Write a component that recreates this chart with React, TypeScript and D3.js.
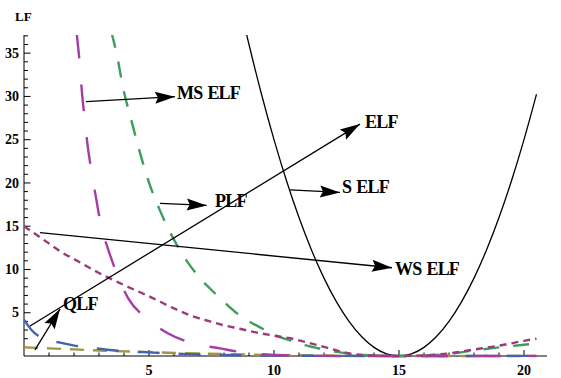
import * as d3 from "d3";
import React, { useEffect } from "react";

// x positions and values, one pair of arrays per curve
const selfX = [8.9, 9, 9.5, 10, 10.5, 11, 11.5, 12, 12.5, 13, 13.5, 14, 14.5, 15, 15.5, 16, 16.5, 17, 17.5, 18, 18.5, 19, 19.5, 20, 20.5];
const selfY = [37.2, 36, 30.25, 25, 20.25, 16, 12.25, 9, 6.25, 4, 2.25, 1, 0.25, 0, 0.25, 1, 2.25, 4, 6.25, 9, 12.25, 16, 20.25, 25, 30.25];

const mselfX = [2.1, 2.24, 2.32, 2.43, 2.55, 2.71, 2.88, 3.08, 3.37, 3.71, 4.17, 4.91, 5.77, 6.77, 7.84, 8.84, 10, 11, 12, 13, 15, 17, 20.5];
const mselfY = [37.5, 33.4, 30.4, 27.3, 24.2, 21.2, 18.3, 15.1, 12.3, 9.55, 6.65, 4.35, 2.6, 1.45, 0.88, 0.38, 0.12, 0.04, 0.01, 0, 0, 0, 0.02];

const plfX = [3.5, 3.73, 3.97, 4.27, 4.61, 4.97, 5.44, 5.97, 6.63, 7.04, 7.44, 7.91, 8.44, 8.91, 9.51, 10.04, 10.71, 11.24, 11.91, 12.44, 13.1, 14, 15, 16, 16.5, 17, 18, 19, 20, 20.5];
const plfY = [37.4, 34.6, 30.9, 27.5, 23.8, 20.3, 16.8, 13.6, 10.5, 9.0, 7.8, 6.5, 5.12, 4.16, 3.2, 2.42, 1.73, 1.25, 0.8, 0.5, 0.25, 0.05, 0, 0.05, 0.12, 0.25, 0.65, 1.0, 1.3, 1.46];

const wselfX = [0, 1, 1.5, 2, 3, 4, 5, 6, 6.64, 7.44, 8, 8.64, 9, 10, 10.64, 11, 12, 13, 14, 15, 16, 17, 18, 19, 20, 20.5];
const wselfY = [15, 13.0, 12.0, 11.2, 9.6, 8.2, 6.9, 5.5, 4.7, 4.0, 3.55, 3.15, 2.9, 2.35, 2.05, 1.8, 1.05, 0.3, 0.05, 0, 0.08, 0.3, 0.75, 1.2, 1.75, 2.0];

const elfX = [0, 0.3, 0.64, 1, 1.44, 2.31, 3.11, 4.04, 4.8, 5.7, 6.5, 8, 10, 12, 15, 20.5];
const elfY = [4.2, 3.0, 2.2, 1.8, 1.54, 1.05, 0.81, 0.52, 0.45, 0.32, 0.22, 0.12, 0.06, 0.02, 0, 0.02];

const qlfX = [0, 1, 2, 3, 4, 5, 6, 7, 8, 10, 12, 14, 15, 20.5];
const qlfY = [1.0, 0.88, 0.76, 0.64, 0.54, 0.45, 0.35, 0.28, 0.22, 0.12, 0.05, 0.01, 0, 0];

const xMajor = [5, 10, 15, 20];
const yMajor = [5, 10, 15, 20, 25, 30, 35];
const minorX = d3.range(1, 21);
const minorY = d3.range(1, 38);

// annotation arrows: start, tip, label corner (data units)
const arrows = [
  { lead: "MS", tail: "ELF", from: [2.48, 29.4], to: [6.04, 29.97], at: [6.12, 29.76] },
  { lead: "", tail: "ELF", from: [0.24, 3.47], to: [13.44, 26.8], at: [13.64, 26.35] },
  { lead: "S", tail: "ELF", from: [10.64, 19.2], to: [12.64, 18.9], at: [12.72, 18.8] },
  { lead: "", tail: "PLF", from: [5.44, 17.65], to: [7.31, 17.4], at: [7.64, 17.22] },
  { lead: "WS", tail: "ELF", from: [0.64, 14.25], to: [14.72, 10.2], at: [14.84, 9.36] },
  { lead: "", tail: "QLF", from: [0.44, 0.7], to: [1.44, 5.43], at: [1.56, 5.32] },
];

const W = 561;
const H = 378;

const App = () => {
  useEffect(() => {
    document.body.style.margin = "0";
  }, []);

  const x = d3.scaleLinear().domain([0, 20.92]).range([24, 547]);
  const y = d3.scaleLinear().domain([0, 37.1]).range([356, 35]);

  const line = (xs: number[], ys: number[]) =>
    d3
      .line<number>()
      .x((d, i) => x(xs[i]))
      .y((d) => y(d))
      .curve(d3.curveMonotoneX)(ys) || "";

  const series = [
    { xs: qlfX, ys: qlfY, color: "#a39442", dash: "14,9", w: 2.4 },
    { xs: elfX, ys: elfY, color: "#4065ac", dash: "22,19", w: 2.4 },
    { xs: plfX, ys: plfY, color: "#3d9e5c", dash: "16,14", w: 2.4 },
    { xs: mselfX, ys: mselfY, color: "#a33da3", dash: "27,26", w: 2.4 },
    { xs: wselfX, ys: wselfY, color: "#9b3b7c", dash: "7,5", w: 2.4 },
  ];

  const font = "'Liberation Serif', 'Times New Roman', serif";

  return (
    <svg width={W} height={H} style={{ display: "block", background: "#fff" }}>
      <defs>
        <clipPath id="plot">
          <rect x={24} y={35} width={523} height={324} />
        </clipPath>
        <marker id="head" viewBox="-21 -7 23 14" markerWidth={23} markerHeight={14} refX={0} refY={0} orient="auto" markerUnits="userSpaceOnUse">
          <path d="M0,0 L-20,-6 L-17,0 L-20,6 Z" fill="#000" />
        </marker>
      </defs>

      {/* axes */}
      <g stroke="#000" strokeWidth={1}>
        <line x1={24} x2={547} y1={356} y2={356} />
        <line x1={24} x2={24} y1={35} y2={356} />
        {minorX.map((t) => (
          <line key={"mx" + t} x1={x(t)} x2={x(t)} y1={356} y2={xMajor.includes(t) ? 350 : 352.5} />
        ))}
        {minorY.filter((t) => y(t) >= 35).map((t) => (
          <line key={"my" + t} x1={24} x2={yMajor.includes(t) ? 30.5 : 28} y1={y(t)} y2={y(t)} />
        ))}
      </g>
      <g fontFamily={font} fontWeight="bold" fontSize={14} fill="#000">
        {xMajor.map((t) => (
          <text key={"xl" + t} x={x(t)} y={375} textAnchor="middle">{t}</text>
        ))}
        {yMajor.map((t) => (
          <text key={"yl" + t} x={19} y={y(t)} dy="0.34em" textAnchor="end">{t}</text>
        ))}
        <text x={15} y={21} fontSize={13}>LF</text>
      </g>

      {/* curves */}
      <g clipPath="url(#plot)" fill="none">
        <path d={line(selfX, selfY)} stroke="#000" strokeWidth={1.3} />
        {series.map((s, i) => (
          <path key={i} d={line(s.xs, s.ys)} stroke={s.color} strokeWidth={s.w} strokeDasharray={s.dash} />
        ))}
      </g>

      {/* annotation arrows */}
      <g>
        {arrows.map((a, i) => (
          <g key={i}>
            <line x1={x(a.from[0])} y1={y(a.from[1])} x2={x(a.to[0])} y2={y(a.to[1])} stroke="#000" strokeWidth={1.3} markerEnd="url(#head)" />
            <text x={x(a.at[0])} y={y(a.at[1])} fontFamily={font} fontWeight="bold" fontSize={18} letterSpacing={-0.8}>
              {a.lead}
              <tspan dx={a.lead ? 5 : 0}>{a.tail}</tspan>
            </text>
          </g>
        ))}
      </g>
    </svg>
  );
};

export default App;
